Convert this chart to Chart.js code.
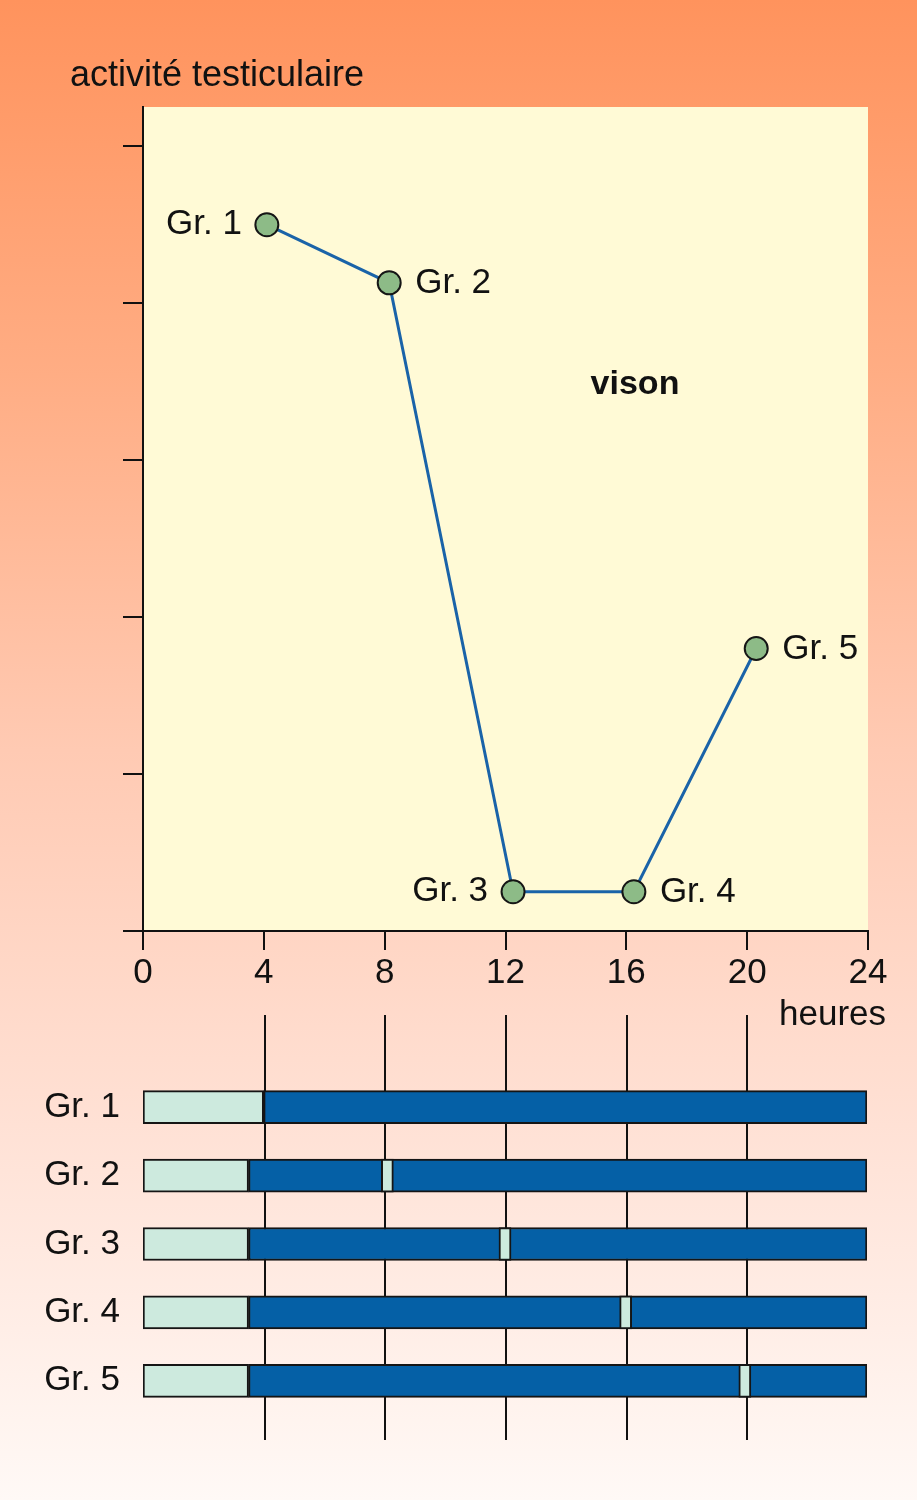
<!DOCTYPE html>
<html>
<head>
<meta charset="utf-8">
<script src="https://cdn.jsdelivr.net/npm/chart.js@4.4.1/dist/chart.umd.min.js"></script>
<style>
  html, body { margin: 0; padding: 0; }
  body {
    width: 917px; height: 1500px; position: relative; overflow: hidden;
    background: linear-gradient(to bottom, #ff935d 0%, #ffad84 25%, #ffcab3 50%, #ffe1d5 75%, #fff9f6 100%);
  }
  #lineChart { position: absolute; left: 0; top: 0; }
  #barChart { position: absolute; left: 0; top: 1000px; }
</style>
</head>
<body>
<canvas id="lineChart" width="917" height="1060"></canvas>
<canvas id="barChart" width="917" height="500"></canvas>
<script>
// data
const groups = ['Gr. 1', 'Gr. 2', 'Gr. 3', 'Gr. 4', 'Gr. 5'];
const hours = [4.1, 8.15, 12.25, 16.25, 20.3];
const activity = [4.5, 4.13, 0.25, 0.25, 1.8];
const xTicks = [0, 4, 8, 12, 16, 20, 24];
const darkStart = [4, 3.5, 3.5, 3.5, 3.5];
const pulseStart = [null, 7.9, 11.8, 15.8, 19.75];
const pulseEnd = [null, 8.3, 12.2, 16.2, 20.15];
const dayEnd = 24;

const FONT = '"Liberation Sans", Arial, sans-serif';
const LIGHT = '#cdeade';
const DARK = '#0560a6';

// background of the plot area + free text
const lineDecor = {
    id: 'lineDecor',
    beforeDraw(chart) {
        const { ctx, chartArea: a } = chart;
        ctx.save();
        ctx.fillStyle = '#fffad6';
        ctx.fillRect(a.left, a.top, a.right - a.left, a.bottom - a.top);
        ctx.restore();
    },
    afterDraw(chart) {
        const { ctx } = chart;
        ctx.save();
        ctx.fillStyle = '#111';
        ctx.textBaseline = 'middle';
        ctx.font = '36px ' + FONT;
        ctx.textAlign = 'left';
        ctx.fillText('activité testiculaire', 70, 76);
        ctx.font = '35px ' + FONT;
        ctx.textAlign = 'right';
        ctx.fillText('heures', 886, 1015);
        ctx.font = 'bold 34px ' + FONT;
        ctx.textAlign = 'center';
        ctx.fillText('vison', 635, 385);

        // labels next to the points
        const sides = ['left', 'right', 'left', 'right', 'right'];
        ctx.font = '35px ' + FONT;
        chart.getDatasetMeta(0).data.forEach((pt, i) => {
            if (sides[i] === 'left') {
                ctx.textAlign = 'right';
                ctx.fillText(groups[i], pt.x - 25, pt.y);
            } else {
                ctx.textAlign = 'left';
                ctx.fillText(groups[i], pt.x + 26, pt.y + 1);
            }
        });
        ctx.restore();
    }
};

new Chart(document.getElementById('lineChart'), {
    type: 'line',
    data: {
        datasets: [{
            data: hours.map((h, i) => ({ x: h, y: activity[i] })),
            borderColor: '#1a63a8',
            borderWidth: 3,
            pointRadius: 11.5,
            pointBackgroundColor: '#8dbb87',
            pointBorderColor: '#151515',
            pointBorderWidth: 2,
            tension: 0
        }]
    },
    options: {
        responsive: false,
        animation: false,
        layout: { padding: { top: 107, right: 49, bottom: 69, left: 0 } },
        plugins: { legend: { display: false }, tooltip: { enabled: false } },
        scales: {
            x: {
                type: 'linear', min: 0, max: 24,
                afterBuildTicks: s => { s.ticks = xTicks.map(v => ({ value: v })); },
                afterFit: s => { s.height = 60; },
                grid: { drawOnChartArea: false, color: '#111', lineWidth: 2, tickLength: 19 },
                border: { color: '#111', width: 2 },
                ticks: { color: '#111', font: { family: FONT, size: 35 }, padding: 2, maxRotation: 0 }
            },
            y: {
                type: 'linear', min: 0, max: 5.25,
                afterBuildTicks: s => { s.ticks = [0, 1, 2, 3, 4, 5].map(v => ({ value: v })); },
                afterFit: s => { s.width = 143; },
                grid: { drawOnChartArea: false, color: '#111', lineWidth: 2, tickLength: 20 },
                border: { color: '#111', width: 2 },
                ticks: { display: false }
            }
        }
    },
    plugins: [lineDecor]
});

// vertical hour marks behind the bars
const hourLines = {
    id: 'hourLines',
    beforeDatasetsDraw(chart) {
        const { ctx, chartArea: a, scales } = chart;
        ctx.save();
        ctx.strokeStyle = '#111';
        ctx.lineWidth = 2;
        [4, 8, 12, 16, 20].forEach(v => {
            const x = Math.round(scales.x.getPixelForValue(v)) + 1;
            ctx.beginPath();
            ctx.moveTo(x, a.top - 58);
            ctx.lineTo(x, a.bottom + 25);
            ctx.stroke();
        });
        ctx.restore();
    }
};

const barStyle = { borderColor: '#151515', borderWidth: 2, borderSkipped: false, barThickness: 33, grouped: false };

new Chart(document.getElementById('barChart'), {
    type: 'bar',
    data: {
        labels: groups,
        datasets: [
            Object.assign({ data: groups.map((g, i) => pulseStart[i] === null ? null : [pulseStart[i], pulseEnd[i]]), backgroundColor: LIGHT, order: 0 }, barStyle),
            Object.assign({ data: groups.map((g, i) => [darkStart[i], dayEnd]), backgroundColor: DARK, order: 1 }, barStyle),
            Object.assign({ data: groups.map((g, i) => [0, darkStart[i]]), backgroundColor: LIGHT, order: 2 }, barStyle)
        ]
    },
    options: {
        indexAxis: 'y',
        responsive: false,
        animation: false,
        layout: { padding: { top: 73, right: 50, bottom: 85, left: 0 } },
        plugins: { legend: { display: false }, tooltip: { enabled: false } },
        scales: {
            x: { type: 'linear', min: 0, max: 24, display: false },
            y: {
                afterFit: s => { s.width = 143; },
                grid: { display: false },
                border: { display: false },
                ticks: { color: '#111', font: { family: FONT, size: 35 }, padding: 15 }
            }
        }
    },
    plugins: [hourLines]
});
</script>
</body>
</html>
